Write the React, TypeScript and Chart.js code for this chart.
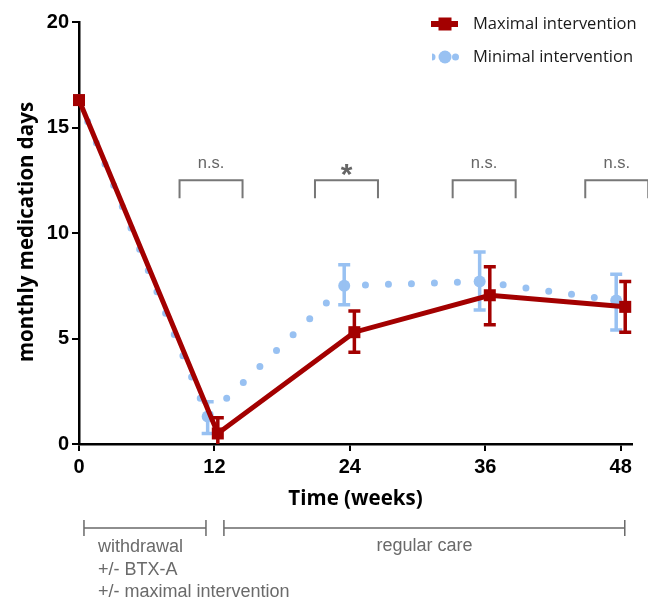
import React, { useEffect, useRef } from 'react';
import { Chart, registerables } from 'chart.js';

Chart.register(...registerables);

// ---- data ----
const seriesNames = ['Maximal intervention', 'Minimal intervention'];

const maxWeeks = [0, 12.3, 24.4, 36.4, 48.4];
const maxValues = [16.3, 0.5, 5.3, 7.05, 6.5];
const maxErrLow = [16.3, 0, 4.35, 5.65, 5.3];
const maxErrHigh = [16.3, 1.25, 6.3, 8.4, 7.7];

const minWeeks = [0, 11.4, 23.5, 35.5, 47.6];
const minValues = [16.3, 1.3, 7.5, 7.7, 6.8];
const minErrLow = [16.3, 0.5, 6.6, 6.35, 5.4];
const minErrHigh = [16.3, 2.0, 8.5, 9.1, 8.05];

const xTicks = [0, 12, 24, 36, 48];
const yTicks = [0, 5, 10, 15, 20];

const comparisonCenters = [11.7, 23.7, 35.9, 47.65];
const comparisonLabels = ['n.s.', '*', 'n.s.', 'n.s.'];

const phaseStarts = [0.44, 12.84];
const phaseEnds = [11.25, 48.36];
const phaseLabels = [['withdrawal', '+/- BTX-A', '+/- maximal intervention'], ['regular care']];

const xTitle = 'Time (weeks)';
const yTitle = 'monthly medication days';

const RED = '#a30000';
const BLUE = '#98c1f2';
const GRAY = '#777777';
const TEXT_GRAY = '#6a6a6a';

const errorSets = [
  { low: maxErrLow, high: maxErrHigh, xs: maxWeeks, color: RED },
  { low: minErrLow, high: minErrHigh, xs: minWeeks, color: BLUE },
];

const annotationPlugin = {
  id: 'annotations',
  afterDatasetDraw(chart: any, args: any) {
    const set = errorSets[args.index];
    if (!set) return;
    const xs = chart.scales.x;
    const ys = chart.scales.y;
    const ctx = chart.ctx;
    ctx.save();
    ctx.strokeStyle = set.color;
    ctx.lineWidth = 3.5;
    ctx.lineCap = 'butt';
    for (let i = 0; i < set.xs.length; i++) {
      if (set.low[i] === set.high[i]) continue;
      const px = xs.getPixelForValue(set.xs[i]);
      const pLow = ys.getPixelForValue(set.low[i]);
      const pHigh = ys.getPixelForValue(set.high[i]);
      ctx.beginPath();
      ctx.moveTo(px, pLow);
      ctx.lineTo(px, pHigh);
      ctx.moveTo(px - 6, pHigh);
      ctx.lineTo(px + 6, pHigh);
      if (set.low[i] > 0) {
        ctx.moveTo(px - 6, pLow);
        ctx.lineTo(px + 6, pLow);
      }
      ctx.stroke();
    }
    ctx.restore();
  },
  afterDraw(chart: any) {
    const ctx = chart.ctx;
    const xs = chart.scales.x;
    const ys = chart.scales.y;
    const area = chart.chartArea;
    ctx.save();

    // significance brackets
    const bTop = ys.getPixelForValue(12.5);
    const bBottom = ys.getPixelForValue(11.65);
    const halfW = 31.5;
    ctx.strokeStyle = GRAY;
    ctx.lineWidth = 2;
    comparisonCenters.forEach((c, i) => {
      const cx = xs.getPixelForValue(c);
      ctx.beginPath();
      ctx.moveTo(cx - halfW, bBottom);
      ctx.lineTo(cx - halfW, bTop);
      ctx.lineTo(cx + halfW, bTop);
      ctx.lineTo(cx + halfW, bBottom);
      ctx.stroke();
      ctx.fillStyle = '#666666';
      ctx.textAlign = 'center';
      ctx.textBaseline = 'alphabetic';
      if (comparisonLabels[i] === '*') {
        ctx.font = 'bold 30px "Liberation Sans", Arial, sans-serif';
        ctx.fillText('*', cx, bTop + 4);
      } else {
        ctx.font = '16.5px "Liberation Sans", Arial, sans-serif';
        ctx.fillText(comparisonLabels[i], cx, bTop - 12);
      }
    });

    // legend
    ctx.strokeStyle = RED;
    ctx.lineWidth = 6;
    ctx.beginPath();
    ctx.moveTo(431, 24);
    ctx.lineTo(458, 24);
    ctx.stroke();
    ctx.fillStyle = RED;
    ctx.fillRect(438.5, 17.5, 13, 13);
    ctx.fillStyle = BLUE;
    ctx.beginPath();
    ctx.arc(445, 57, 6.5, 0, Math.PI * 2);
    ctx.fill();
    ctx.beginPath();
    ctx.arc(455.5, 57, 3.5, 0, Math.PI * 2);
    ctx.fill();
    ctx.beginPath();
    ctx.arc(432, 57, 3.5, -Math.PI / 2, Math.PI / 2);
    ctx.fill();
    ctx.fillStyle = '#1a1a1a';
    ctx.font = '16.5px "Open Sans", sans-serif';
    ctx.textAlign = 'left';
    ctx.textBaseline = 'middle';
    ctx.fillText(seriesNames[0], 473, 24);
    ctx.fillText(seriesNames[1], 473, 57);

    // axis titles
    ctx.fillStyle = '#000000';
    ctx.font = 'bold 20.5px "Open Sans", sans-serif';
    ctx.textAlign = 'center';
    ctx.textBaseline = 'alphabetic';
    ctx.fillText(xTitle, (area.left + area.right) / 2, 505);
    ctx.save();
    ctx.translate(33, (area.top + area.bottom) / 2 - 1);
    ctx.rotate(-Math.PI / 2);
    ctx.fillText(yTitle, 0, 0);
    ctx.restore();

    // phase annotations
    const lineY = 528;
    ctx.strokeStyle = TEXT_GRAY;
    ctx.lineWidth = 1.5;
    phaseStarts.forEach((s, i) => {
      const x0 = xs.getPixelForValue(s);
      const x1 = xs.getPixelForValue(phaseEnds[i]);
      ctx.beginPath();
      ctx.moveTo(x0, lineY);
      ctx.lineTo(x1, lineY);
      ctx.moveTo(x0, lineY - 8);
      ctx.lineTo(x0, lineY + 8);
      ctx.moveTo(x1, lineY - 8);
      ctx.lineTo(x1, lineY + 8);
      ctx.stroke();
    });
    ctx.fillStyle = TEXT_GRAY;
    ctx.font = '18px "Liberation Sans", Arial, sans-serif';
    ctx.textBaseline = 'alphabetic';
    ctx.textAlign = 'left';
    phaseLabels[0].forEach((t, j) => {
      ctx.fillText(t, 98, 552 + j * 22.5);
    });
    ctx.textAlign = 'center';
    ctx.fillText(phaseLabels[1][0], 424.5, 551);

    ctx.restore();
  },
};

export default function App() {
  const canvasRef = useRef<HTMLCanvasElement | null>(null);

  useEffect(() => {
    document.body.style.margin = '0';
    const canvas = canvasRef.current;
    if (!canvas) return;
    const chart = new Chart(canvas, {
      type: 'line',
      data: {
        datasets: [
          {
            label: seriesNames[0],
            data: maxWeeks.map((x, i) => ({ x, y: maxValues[i] })),
            borderColor: RED,
            backgroundColor: RED,
            borderWidth: 5,
            pointStyle: 'rect',
            pointRadius: 8.5,
            pointHoverRadius: 8.5,
            pointBorderWidth: 0,
            tension: 0,
            clip: false,
          },
          {
            label: seriesNames[1],
            data: minWeeks.map((x, i) => ({ x, y: minValues[i] })),
            borderColor: BLUE,
            backgroundColor: BLUE,
            borderWidth: 7,
            borderDash: [0, 23],
            borderCapStyle: 'round',
            pointStyle: 'circle',
            pointRadius: 6,
            pointHoverRadius: 6,
            pointBorderWidth: 0,
            tension: 0,
            clip: false,
          },
        ],
      },
      options: {
        responsive: false,
        animation: false,
        events: [],
        layout: { padding: { left: 0, top: 22, right: 16, bottom: 0 } },
        plugins: { legend: { display: false }, tooltip: { enabled: false } },
        scales: {
          x: {
            type: 'linear',
            min: 0,
            max: 49,
            afterBuildTicks: (scale: any) => {
              scale.ticks = xTicks.map((v) => ({ value: v }));
            },
            afterFit: (scale: any) => {
              scale.height = 153;
            },
            ticks: {
              color: '#000',
              padding: 4,
              autoSkip: false,
              maxRotation: 0,
              font: { family: '"Liberation Sans", Arial, sans-serif', size: 20, weight: 'bold' },
            },
            grid: {
              display: true,
              drawOnChartArea: false,
              drawTicks: true,
              tickLength: 7,
              color: '#000',
              lineWidth: 2,
            },
            border: { display: true, color: '#000', width: 2.5 },
          },
          y: {
            type: 'linear',
            min: 0,
            max: 20,
            afterBuildTicks: (scale: any) => {
              scale.ticks = yTicks.map((v) => ({ value: v }));
            },
            afterFit: (scale: any) => {
              scale.width = 79;
            },
            ticks: {
              color: '#000',
              padding: 3,
              font: { family: '"Liberation Sans", Arial, sans-serif', size: 20, weight: 'bold' },
            },
            grid: {
              display: true,
              drawOnChartArea: false,
              drawTicks: true,
              tickLength: 7,
              color: '#000',
              lineWidth: 2,
            },
            border: { display: true, color: '#000', width: 2.5 },
          },
        },
      },
      plugins: [annotationPlugin],
    } as any);
    return () => chart.destroy();
  }, []);

  return (
    <div style={{ width: 648, height: 597 }}>
      <canvas ref={canvasRef} width={648} height={597} style={{ display: 'block' }} />
    </div>
  );
}
